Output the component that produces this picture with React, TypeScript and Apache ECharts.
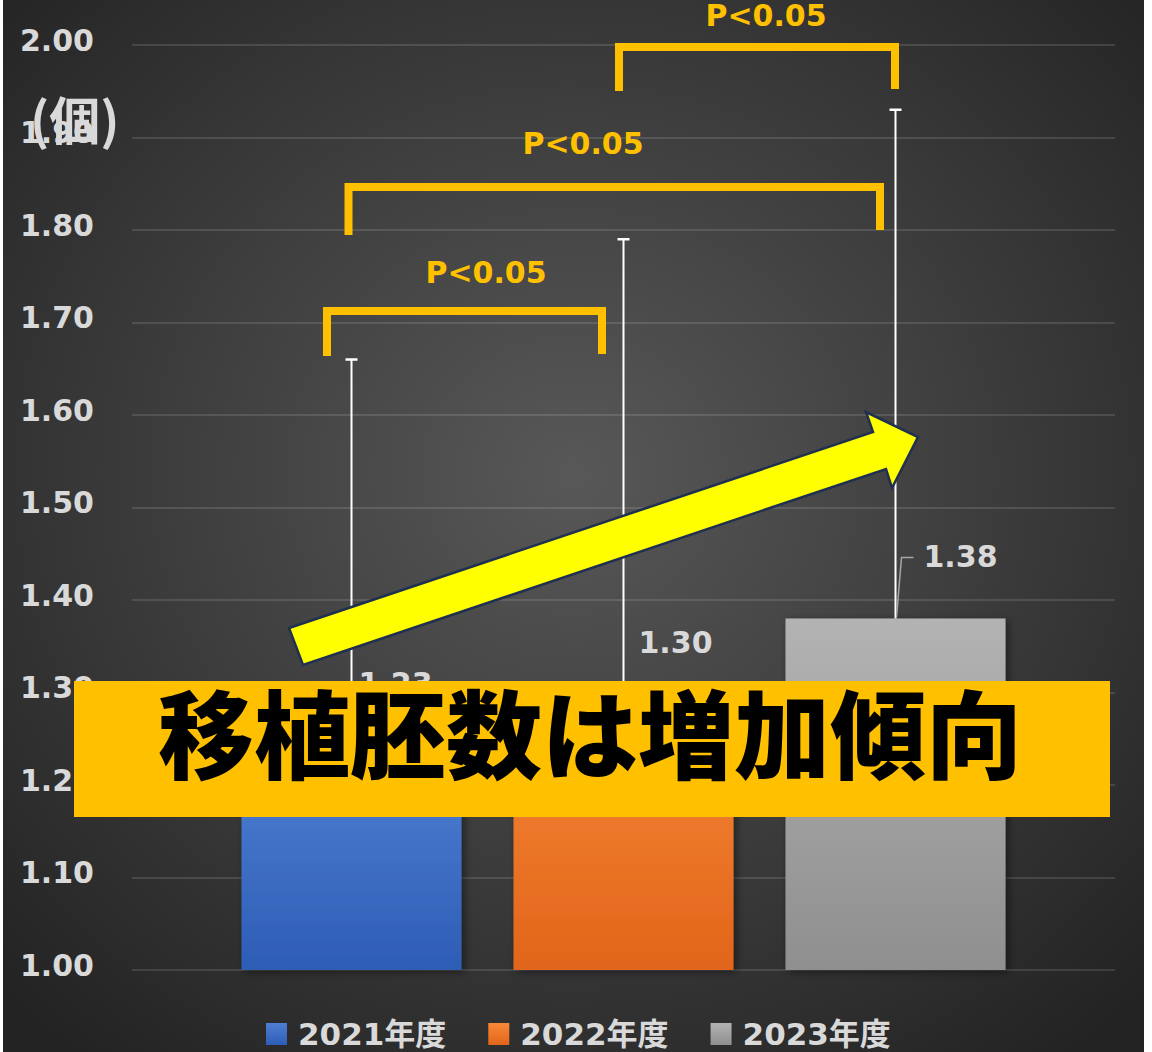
import React, { useEffect, useRef } from "react";
import * as echarts from "echarts";

// ---- data ----
const categories = ["移植胚数"];
const seriesNames = ["2021年度", "2022年度", "2023年度"];
const means = [1.23, 1.3, 1.38];
const errPlus = [0.43, 0.49, 0.55];
const yMin = 1.0;
const yMax = 2.0;
const yInterval = 0.1;
const pTexts = ["P<0.05", "P<0.05", "P<0.05"];
const bannerText = "移植胚数は増加傾向";
const unitText = "(個)";

// ---- layout / style constants ----
const W = 1152;
const H = 1052;
const BAR_W = 220;
const BAR_GAP = 52;
const LABEL_OFF = [
  [7, -74],
  [15, -50],
  [28, -62],
];
const barColors = [
  ["#4f7fd2", "#2d5db6"],
  ["#f88838", "#e1651a"],
  ["#b3b3b3", "#8f8f8f"],
];
const LABEL_FONT = '"DejaVu Sans", "Noto Sans CJK JP", sans-serif';
const CJK_FONT = '"Noto Sans CJK JP", sans-serif';
const YELLOW = "#ffc000";
const TXT = "#d9d9d9";

const brackets = [
  { pts: [[327, 356], [327, 311], [602, 311], [602, 354]], lx: 486, ly: 272 },
  { pts: [[348.5, 235], [348.5, 187], [880, 187], [880, 230]], lx: 583, ly: 143 },
  { pts: [[619, 91], [619, 47], [895, 47], [895, 89]], lx: 766, ly: 15 },
];

const arrowPts = [
  [289, 628],
  [873, 432],
  [866, 412],
  [918, 437],
  [892, 488],
  [886, 469],
  [303, 665],
];

function grad(c: string[]) {
  return new echarts.graphic.LinearGradient(0, 0, 0, 1, [
    { offset: 0, color: c[0] },
    { offset: 1, color: c[1] },
  ]);
}

export default function App() {
  const ref = useRef<HTMLDivElement>(null);
  useEffect(() => {
    if (!ref.current) return;
    const chart = echarts.init(ref.current, null, { renderer: "svg" });

    const barSeries = seriesNames.map((name, i) => ({
      name,
      type: "bar",
      data: [means[i]],
      barWidth: BAR_W,
      barGap: `${((BAR_GAP / BAR_W) * 100).toFixed(2)}%`,
      itemStyle: {
        color: grad(barColors[i]),
        shadowColor: "rgba(0,0,0,0.45)",
        shadowBlur: 8,
        shadowOffsetX: 3,
        shadowOffsetY: 2,
      },
      z: 2,
    }));

    const errData = means.map((m, i) => [0, m, m + errPlus[i], i]);

    const errSeries = {
      type: "custom",
      name: "err",
      data: errData,
      encode: { x: 0, y: [1, 2] },
      z: 5,
      renderItem: (params: any, api: any) => {
        const i = api.value(3);
        const base = api.coord([api.value(0), api.value(1)]);
        const top = api.coord([api.value(0), api.value(2)]);
        const x = base[0] + (i - 1) * (BAR_W + BAR_GAP);
        const children: any[] = [
          {
            type: "line",
            shape: { x1: x, y1: base[1], x2: x, y2: top[1] },
            style: { stroke: "#ffffff", lineWidth: 2 },
          },
          {
            type: "line",
            shape: { x1: x - 6, y1: top[1], x2: x + 6, y2: top[1] },
            style: { stroke: "#ffffff", lineWidth: 2.5 },
          },
          {
            type: "text",
            x: x + LABEL_OFF[i][0],
            y: base[1] + LABEL_OFF[i][1],
            style: {
              text: Number(api.value(1)).toFixed(2),
              fill: TXT,
              fontSize: 30,
              fontWeight: "bold",
              fontFamily: LABEL_FONT,
              align: "left",
              verticalAlign: "middle",
            },
          },
        ];
        if (i === 2) {
          children.push({
            type: "polyline",
            shape: {
              points: [
                [x + 1, base[1] - 1],
                [x + 6, base[1] + LABEL_OFF[i][1] + 1],
                [x + 18, base[1] + LABEL_OFF[i][1] + 1],
              ],
            },
            style: { stroke: "#a6a6a6", lineWidth: 1.5, fill: null },
          });
        }
        return { type: "group", children };
      },
    };

    const graphics: any[] = [
      {
        type: "rect",
        z: -100,
        silent: true,
        shape: { x: 3, y: 0, width: 1141, height: H },
        style: {
          fill: new echarts.graphic.RadialGradient(0.5, 0.45, 0.7, [
            { offset: 0, color: "#585858" },
            { offset: 1, color: "#232323" },
          ]),
        },
      },
      {
        type: "text",
        z: 50,
        x: 30,
        y: 118,
        style: {
          text: unitText,
          fill: TXT,
          fontSize: 51,
          fontWeight: "bold",
          fontFamily: CJK_FONT,
          align: "left",
          verticalAlign: "middle",
        },
      },
    ];

    brackets.forEach((b, k) => {
      graphics.push({
        type: "polyline",
        z: 50,
        shape: { points: b.pts },
        style: { stroke: YELLOW, lineWidth: 8, fill: null, lineJoin: "miter", lineCap: "butt" },
      });
      graphics.push({
        type: "text",
        z: 50,
        x: b.lx,
        y: b.ly,
        style: {
          text: pTexts[k],
          fill: YELLOW,
          fontSize: 30,
          fontWeight: "bold",
          fontFamily: LABEL_FONT,
          align: "center",
          verticalAlign: "middle",
        },
      });
    });

    graphics.push({
      type: "polygon",
      z: 60,
      shape: { points: arrowPts },
      style: { fill: "#ffff00", stroke: "#1f3050", lineWidth: 2.5, lineJoin: "miter" },
    });

    graphics.push({
      type: "rect",
      z: 70,
      shape: { x: 74, y: 681, width: 1036, height: 136 },
      style: { fill: YELLOW },
    });
    graphics.push({
      type: "text",
      z: 71,
      x: 590,
      y: 729,
      style: {
        text: bannerText,
        fill: "#000000",
        fontSize: 96,
        fontWeight: 900,
        fontFamily: CJK_FONT,
        align: "center",
        verticalAlign: "middle",
      },
    });

    chart.setOption({
      animation: false,
      grid: { left: 132, right: W - 1115, top: 45, bottom: H - 970 },
      xAxis: {
        type: "category",
        data: categories,
        axisLine: { show: false },
        axisTick: { show: false },
        axisLabel: { show: false },
      },
      yAxis: {
        type: "value",
        min: yMin,
        max: yMax,
        interval: yInterval,
        axisLine: { show: false },
        axisTick: { show: false },
        axisLabel: {
          margin: 38,
          formatter: (v: number) => `{a|${v.toFixed(2)}}`,
          rich: {
            a: {
              color: TXT,
              fontSize: 30,
              fontWeight: "bold",
              fontFamily: LABEL_FONT,
              lineHeight: 34,
              padding: [0, 0, 10, 0],
            },
          },
        },
        splitLine: { lineStyle: { color: "rgba(255,255,255,0.12)", width: 2 } },
      },
      legend: {
        data: seriesNames,
        left: 266,
        top: 1016,
        padding: 0,
        icon: "rect",
        itemWidth: 21,
        itemHeight: 22,
        itemGap: 42,
        textStyle: {
          color: TXT,
          fontSize: 31,
          fontWeight: "bold",
          fontFamily: LABEL_FONT,
          lineHeight: 36,
          padding: [0, 0, 0, 6],
        },
      },
      series: [...barSeries, errSeries],
      graphic: graphics,
    });

    return () => chart.dispose();
  }, []);

  return (
    <div
      ref={ref}
      style={{ position: "absolute", left: 0, top: 0, width: W, height: H, background: "#ffffff" }}
    />
  );
}
